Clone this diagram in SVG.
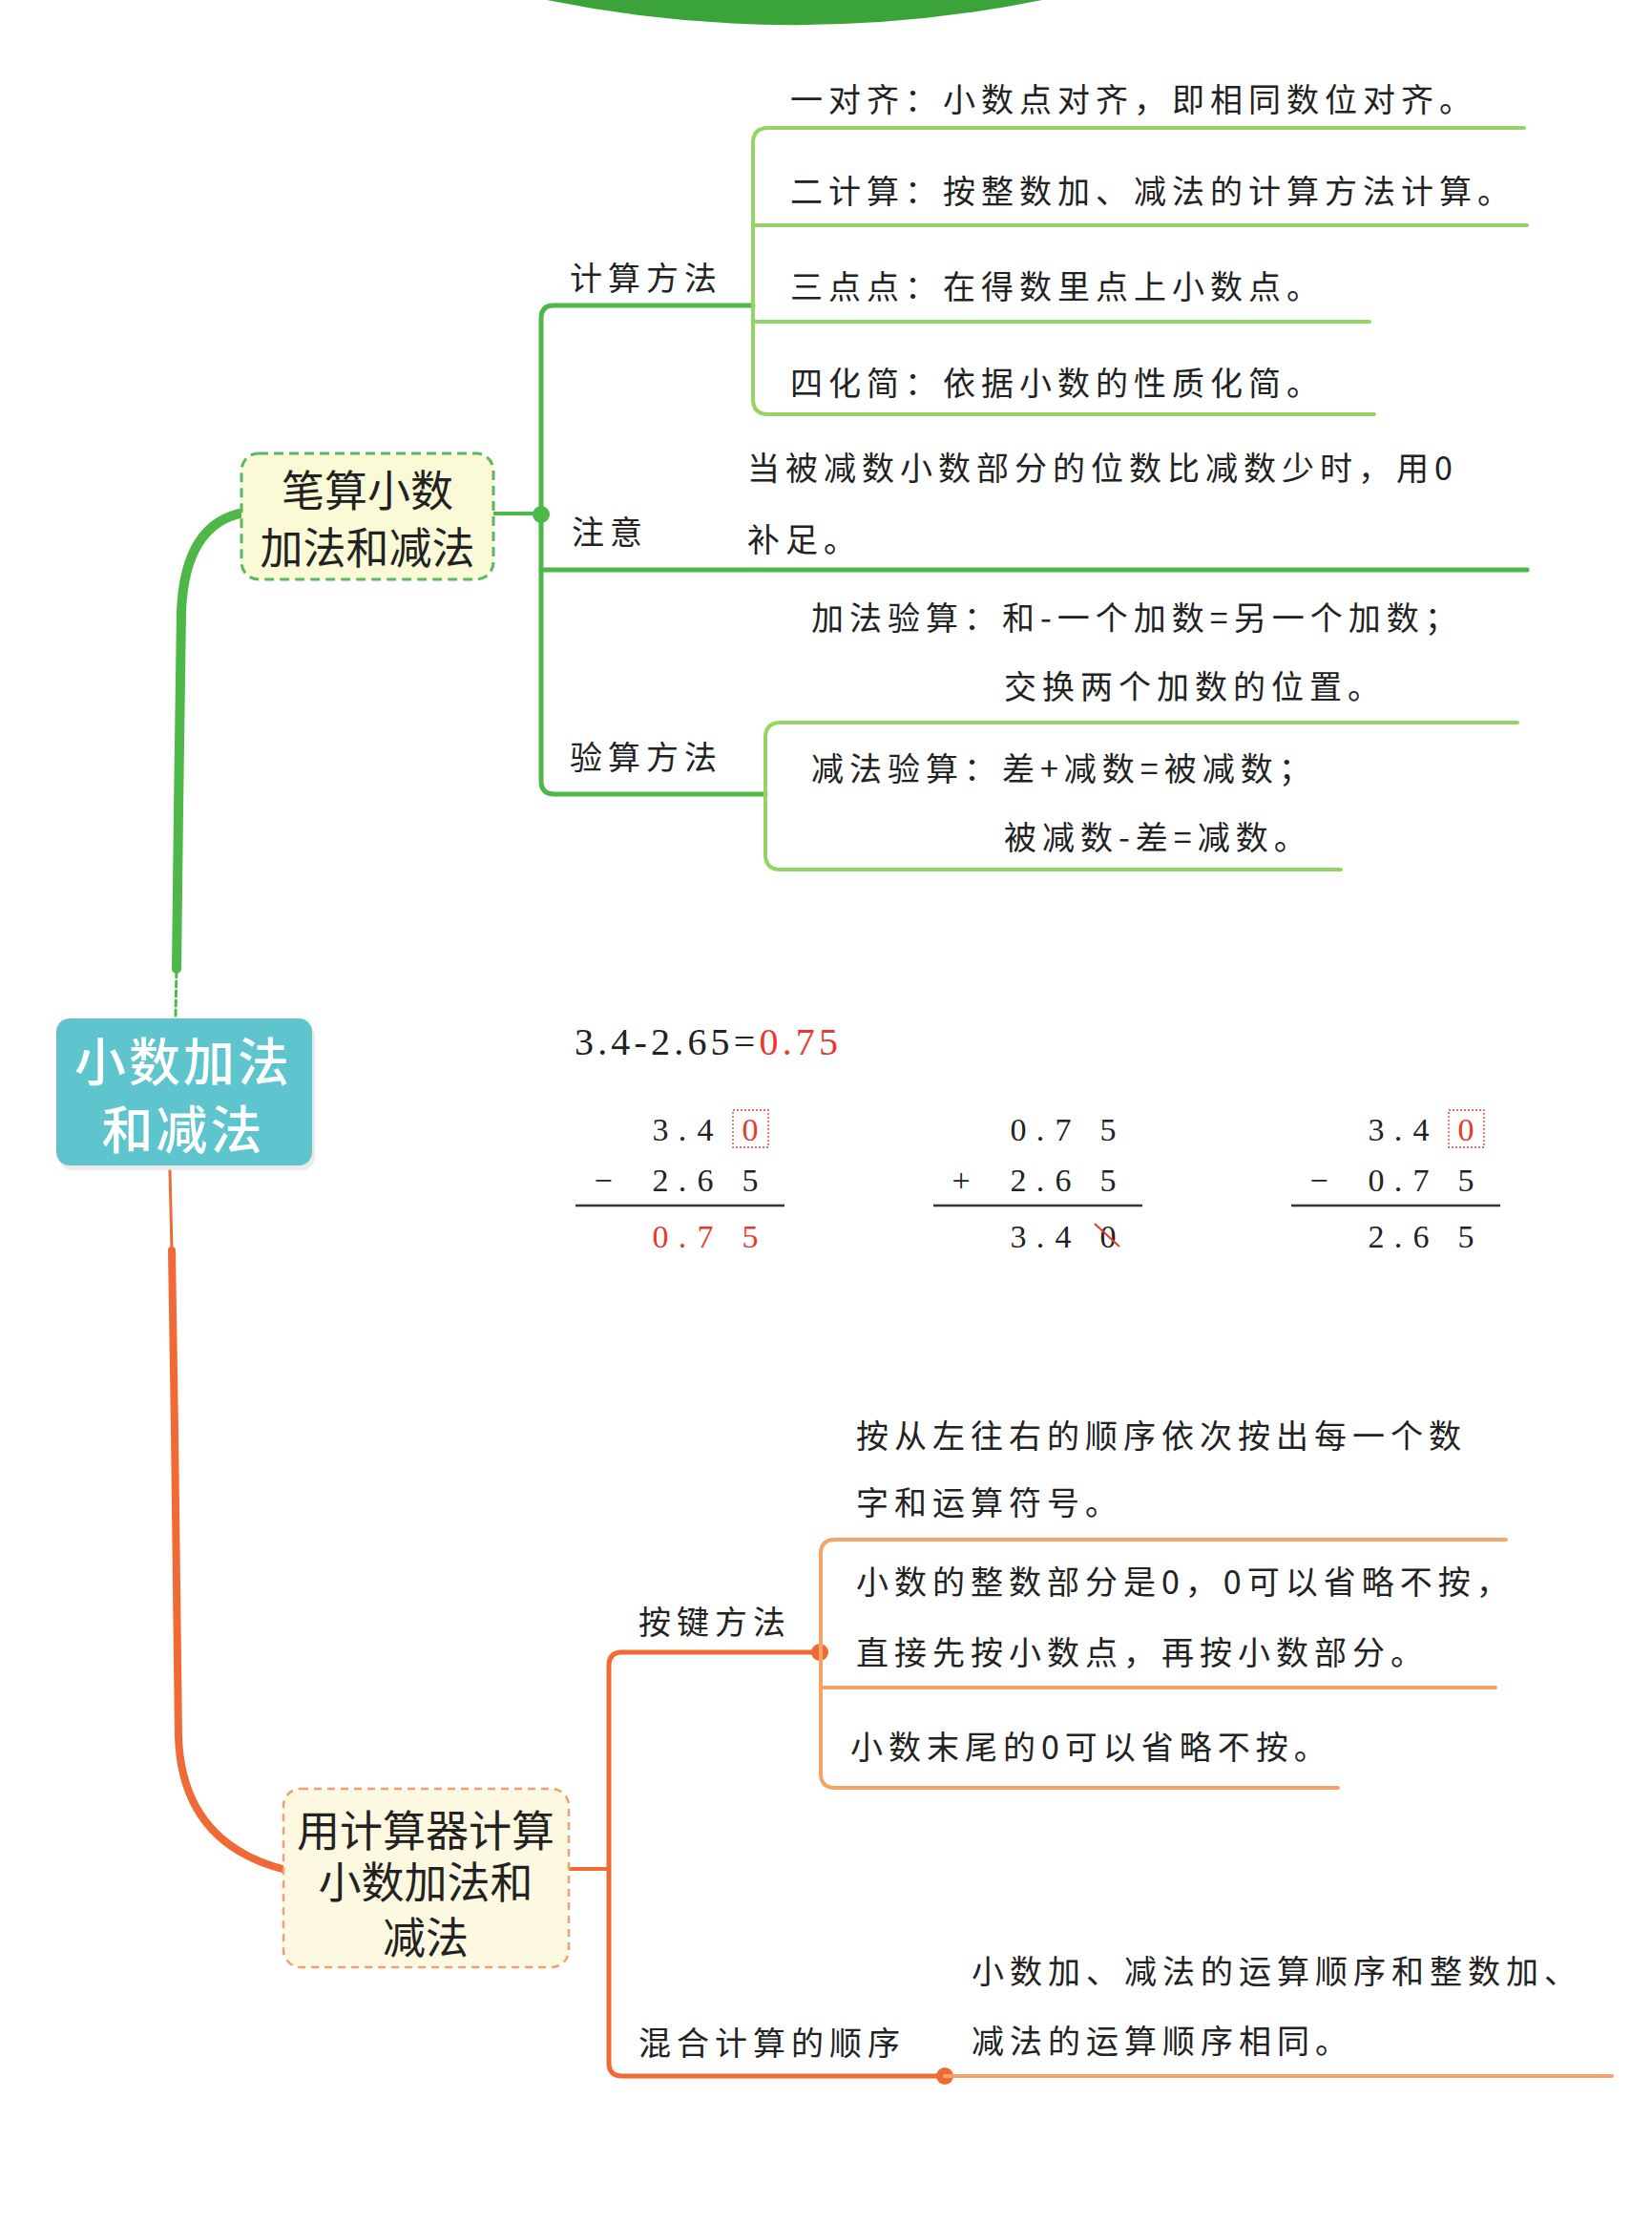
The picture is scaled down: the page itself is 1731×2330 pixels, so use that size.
<svg xmlns="http://www.w3.org/2000/svg" width="1731" height="2330" viewBox="0 0 1731 2330">
<defs>
<style>
.t{font-family:"Noto Sans CJK SC","Noto Sans",sans-serif;font-size:34px;fill:#222;letter-spacing:6px}
.bx{font-family:"Noto Sans CJK SC","Noto Sans",sans-serif;font-size:45px;fill:#222;text-anchor:middle}
.root{font-family:"Noto Sans CJK SC","Noto Sans",sans-serif;font-size:54px;fill:#fff;text-anchor:middle;letter-spacing:3px;font-weight:500}
.n{font-family:"Liberation Serif","Times New Roman",serif;font-size:34px;fill:#222;text-anchor:middle}
.r{fill:#e8392c}
.g1{fill:none;stroke:#4db848;stroke-linecap:round;stroke-linejoin:round}
.g2{fill:none;stroke:#93d462;stroke-width:4;stroke-linecap:round}
.o1{fill:none;stroke:#f06a35;stroke-linecap:round;stroke-linejoin:round}
.o2{fill:none;stroke:#f5a466;stroke-width:4;stroke-linecap:round}
.rule{stroke:#333;stroke-width:2.5}
.zbox{fill:none;stroke:#e8392c;stroke-width:1.3;stroke-dasharray:2 2}
</style>
</defs>
<rect width="1731" height="2330" fill="#fff"/>
<path d="M573 0 A1300 1300 0 0 0 1092 0 Z" fill="#3aa33a"/>

<g id="connectors">
  <!-- branch 1 green -->
  <path class="g1" d="M185 1015 L187 850 L190 640 Q194 548 256 537" stroke-width="10"/>
  <path class="g1" d="M184 1064 L185 1015" stroke-width="3" stroke-dasharray="6 4"/>
  <path class="g1" d="M517 538 L566 538" stroke-width="4"/>
  <circle cx="567" cy="539" r="9" fill="#4db848"/>
  <path class="g1" d="M789 320 L580 320 Q567 320 567 334 L567 818 Q567 832 581 832 L802 832" stroke-width="5"/>
  <path class="g1" d="M567 597 L1600 597" stroke-width="5"/>
  <path class="g2" d="M1597 134 L805 134 Q789 134 789 150 L789 418 Q789 434 805 434 L1440 434"/>
  <path class="g2" d="M789 236 L1600 236"/>
  <path class="g2" d="M789 337 L1435 337"/>
  <path class="g2" d="M1590 757 L818 757 Q802 757 802 773 L802 895 Q802 911 818 911 L1405 911"/>
  <!-- branch 2 orange -->
  <path class="o1" d="M178 1226 L180 1310" stroke-width="3"/>
  <path class="o1" d="M180 1310 L183 1500 L187 1820 Q191 1930 296 1958" stroke-width="8"/>
  <path class="o1" d="M597 1958 L638 1958" stroke-width="4"/>
  <path class="o1" d="M859 1731 L652 1731 Q638 1731 638 1745 L638 2161 Q638 2175 652 2175 L990 2175" stroke-width="5"/>
  <circle cx="859" cy="1731" r="9" fill="#f06a35"/>
  <circle cx="990" cy="2175" r="9" fill="#f06a35"/>
  <path class="o2" d="M990 2175 L1689 2175"/>
  <path class="o2" d="M1578 1613 L875 1613 Q860 1613 860 1628 L860 1858 Q860 1873 875 1873 L1402 1873"/>
  <path class="o2" d="M860 1768 L1567 1768"/>
</g>

<g id="root">
  <rect x="62" y="1072" width="268" height="154" rx="14" fill="#e2e2e6" opacity="0.7"/>
  <rect x="59" y="1067" width="268" height="154" rx="14" fill="#5ec4cd"/>
  <text class="root" x="192" y="1133">小数加法<tspan x="192" dy="71">和减法</tspan></text>
</g>

<g id="branch1">
  <rect x="253" y="475" width="264" height="132" rx="18" fill="#fafbd6" stroke="#5cb85c" stroke-width="3" stroke-dasharray="10 6"/>
  <text class="bx" x="385" y="531">笔算小数<tspan x="385" dy="60">加法和减法</tspan></text>
</g>

<g id="calc-method">
  <text class="t" x="597" y="304">计算方法</text>
  <text class="t" x="828" y="117">一对齐：小数点对齐，即相同数位对齐。</text>
  <text class="t" x="828" y="213">二计算：按整数加、减法的计算方法计算。</text>
  <text class="t" x="828" y="313">三点点：在得数里点上小数点。</text>
  <text class="t" x="828" y="414">四化简：依据小数的性质化简。</text>
</g>

<g id="note">
  <text class="t" x="599" y="570">注意</text>
  <text class="t" x="783" y="503">当被减数小数部分的位数比减数少时，用0</text>
  <text class="t" x="783" y="578">补足。</text>
</g>

<g id="check-method">
  <text class="t" x="597" y="806">验算方法</text>
  <text class="t" x="850" y="660">加法验算：和-一个加数=另一个加数；</text>
  <text class="t" x="1052" y="732">交换两个加数的位置。</text>
  <text class="t" x="850" y="818">减法验算：差+减数=被减数；</text>
  <text class="t" x="1052" y="890">被减数-差=减数。</text>
</g>

<g id="example">
  <text x="602" y="1105" font-family="Liberation Serif, serif" font-size="40" fill="#222" textLength="276" lengthAdjust="spacing">3.4-2.65=<tspan class="r">0.75</tspan></text>
  <!-- column 1 -->
  <text class="n" x="692" y="1195">3</text><text class="n" x="715" y="1195">.</text><text class="n" x="739" y="1195">4</text><text class="n r" x="786" y="1195">0</text>
  <rect class="zbox" x="768" y="1163" width="37" height="39"/>
  <text class="n" x="632" y="1248">−</text><text class="n" x="692" y="1248">2</text><text class="n" x="715" y="1248">.</text><text class="n" x="739" y="1248">6</text><text class="n" x="786" y="1248">5</text>
  <line class="rule" x1="603" y1="1263" x2="822" y2="1263"/>
  <text class="n r" x="692" y="1307">0</text><text class="n r" x="715" y="1307">.</text><text class="n r" x="739" y="1307">7</text><text class="n r" x="786" y="1307">5</text>
  <!-- column 2 -->
  <text class="n" x="1067" y="1195">0</text><text class="n" x="1090" y="1195">.</text><text class="n" x="1114" y="1195">7</text><text class="n" x="1161" y="1195">5</text>
  <text class="n" x="1007" y="1248">+</text><text class="n" x="1067" y="1248">2</text><text class="n" x="1090" y="1248">.</text><text class="n" x="1114" y="1248">6</text><text class="n" x="1161" y="1248">5</text>
  <line class="rule" x1="978" y1="1263" x2="1197" y2="1263"/>
  <text class="n" x="1067" y="1307">3</text><text class="n" x="1090" y="1307">.</text><text class="n" x="1114" y="1307">4</text><text class="n" x="1161" y="1307">0</text>
  <line x1="1147" y1="1282" x2="1173" y2="1306" stroke="#e8392c" stroke-width="2"/>
  <!-- column 3 -->
  <text class="n" x="1442" y="1195">3</text><text class="n" x="1465" y="1195">.</text><text class="n" x="1489" y="1195">4</text><text class="n r" x="1536" y="1195">0</text>
  <rect class="zbox" x="1518" y="1163" width="37" height="39"/>
  <text class="n" x="1382" y="1248">−</text><text class="n" x="1442" y="1248">0</text><text class="n" x="1465" y="1248">.</text><text class="n" x="1489" y="1248">7</text><text class="n" x="1536" y="1248">5</text>
  <line class="rule" x1="1353" y1="1263" x2="1572" y2="1263"/>
  <text class="n" x="1442" y="1307">2</text><text class="n" x="1465" y="1307">.</text><text class="n" x="1489" y="1307">6</text><text class="n" x="1536" y="1307">5</text>
</g>

<g id="branch2">
  <rect x="297" y="1874" width="299" height="187" rx="18" fill="#fdf8e0" stroke="#f0a070" stroke-width="2.5" stroke-dasharray="8 6"/>
  <text class="bx" x="446" y="1935">用计算器计算<tspan x="446" dy="54">小数加法和</tspan><tspan x="446" dy="58">减法</tspan></text>
</g>

<g id="key-method">
  <text class="t" x="669" y="1712">按键方法</text>
  <text class="t" x="897" y="1517">按从左往右的顺序依次按出每一个数</text>
  <text class="t" x="897" y="1587">字和运算符号。</text>
  <text class="t" x="897" y="1670">小数的整数部分是0，0可以省略不按，</text>
  <text class="t" x="897" y="1744">直接先按小数点，再按小数部分。</text>
  <text class="t" x="891" y="1843">小数末尾的0可以省略不按。</text>
</g>

<g id="mixed-order">
  <text class="t" x="669" y="2153">混合计算的顺序</text>
  <text class="t" x="1018" y="2078">小数加、减法的运算顺序和整数加、</text>
  <text class="t" x="1018" y="2151">减法的运算顺序相同。</text>
</g>
</svg>
